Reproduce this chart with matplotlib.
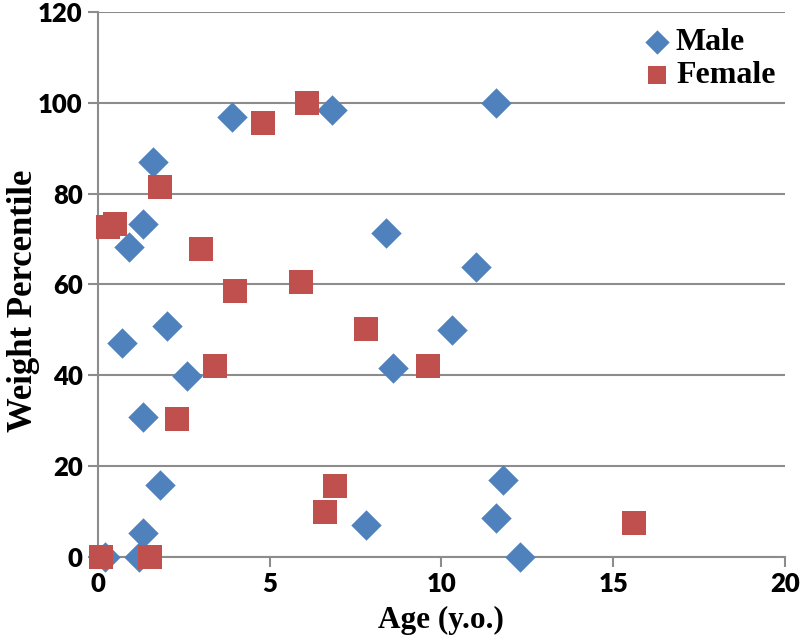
import matplotlib.pyplot as plt

# data (age in years, weight percentile)
male_age = [0.2, 1.2, 0.7, 2.0, 2.6, 1.3, 1.8, 1.3, 0.9, 1.3, 1.6, 3.9, 6.8,
            8.4, 11.0, 10.3, 8.6, 7.8, 11.8, 11.6, 12.3, 11.6]
male_pct = [0, 0, 47, 50.8, 39.8, 30.7, 15.8, 5.3, 68.3, 73.2, 87, 96.9, 98.5,
            71.4, 63.9, 49.9, 41.5, 7, 16.9, 8.5, 0, 100]

female_age = [0.3, 0.5, 1.8, 3.0, 4.8, 6.1, 4.0, 5.9, 3.4, 2.3, 0.1, 1.5,
              7.8, 9.6, 6.9, 6.6, 15.6]
female_pct = [72.7, 73.3, 81.4, 67.7, 95.6, 100, 58.6, 60.5, 42, 30.3, 0, 0,
              50.1, 42.1, 15.6, 9.9, 7.4]

x_ticks = [0, 5, 10, 15, 20]
y_ticks = [0, 20, 40, 60, 80, 100, 120]

blue = "#4F81BD"
red = "#C0504D"
grey = "#8c8c8c"

fig = plt.figure(figsize=(8, 6.39), dpi=100)
ax = fig.add_axes([0.1225, 0.129, 0.8585, 0.852])

ax.scatter(male_age, male_pct, marker="D", s=240, color=blue, label="Male",
           linewidths=0, zorder=3, clip_on=False)
ax.scatter(female_age, female_pct, marker="s", s=290, color=red, label="Female",
           linewidths=0, zorder=4, clip_on=False)

ax.set_xlim(0, 20)
ax.set_ylim(0, 120)
ax.set_xticks(x_ticks)
ax.set_yticks(y_ticks)
ax.set_axisbelow(True)
ax.yaxis.grid(True, color=grey, linewidth=1.5)

for side in ["top", "right"]:
    ax.spines[side].set_visible(False)
for side in ["left", "bottom"]:
    ax.spines[side].set_color(grey)
    ax.spines[side].set_linewidth(1.5)

ax.tick_params(axis="both", direction="out", length=7, width=1.5, color=grey,
               labelsize=18.5, pad=4)
for lab in ax.get_xticklabels() + ax.get_yticklabels():
    lab.set_fontfamily("Lato")
    lab.set_fontweight("heavy")

ax.set_xlabel("Age (y.o.)", family="Liberation Serif", weight="bold",
              size=22.5, labelpad=7)
ax.set_ylabel("Weight Percentile", family="Liberation Serif", weight="bold",
              size=25)
# the y title sits a little below the middle of the axis in the original
ax.yaxis.set_label_coords(-0.085, 0.47)

ax.legend(loc="upper right", bbox_to_anchor=(1.005, 0.995), frameon=False,
          handlelength=0.8, handletextpad=0.2, labelspacing=0.12,
          borderaxespad=0.0, markerscale=0.8,
          prop={"family": "Liberation Serif", "weight": "bold", "size": 23})

fig.savefig("out.png", dpi=100)
